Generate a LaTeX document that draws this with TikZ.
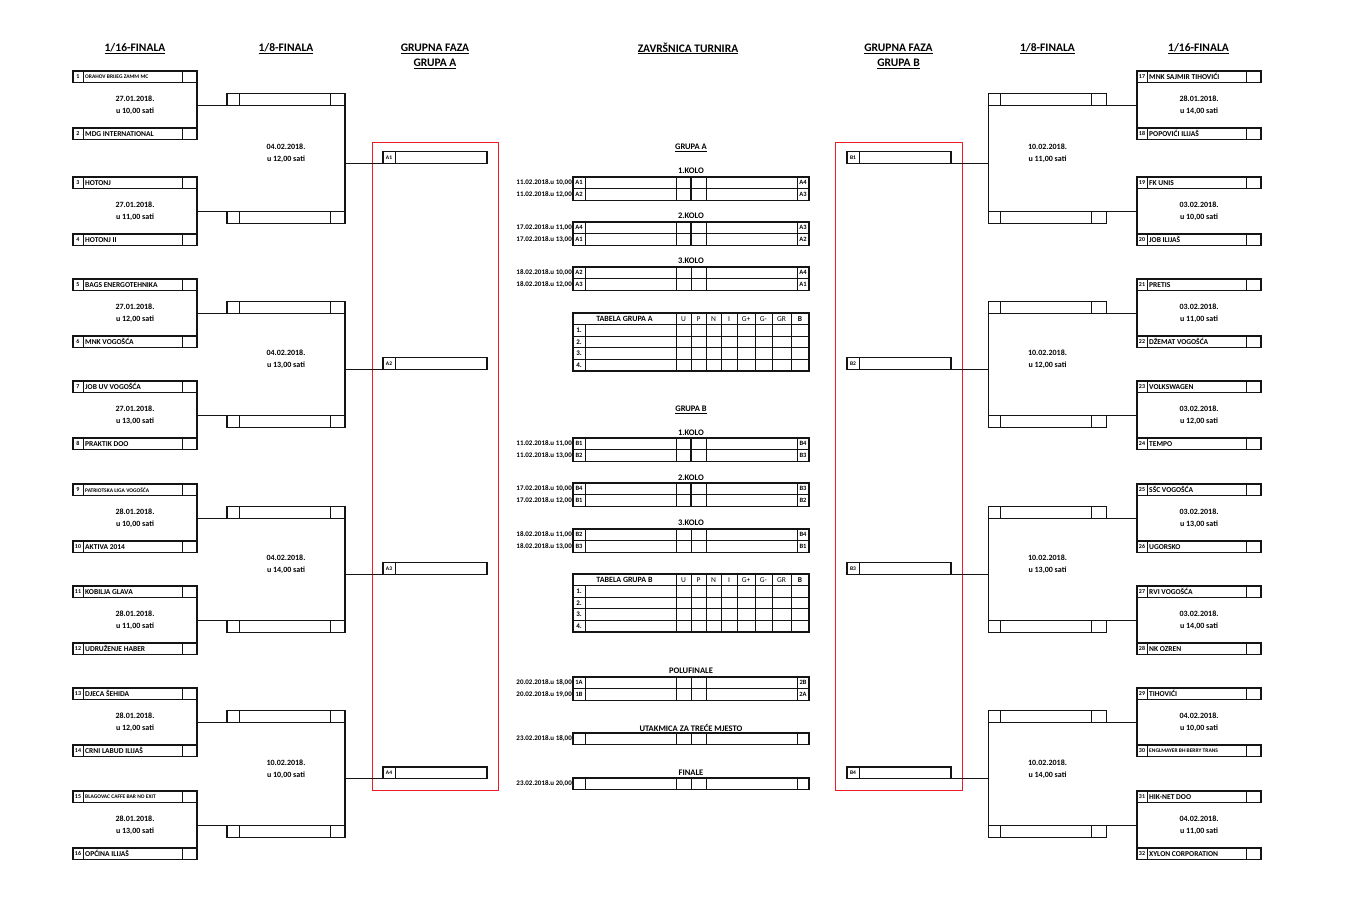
\documentclass[tikz,border=0pt]{standalone}
\usepackage{fontspec}
\setmainfont{Carlito}
\usetikzlibrary{positioning,calc}
\definecolor{ink}{HTML}{141414}
\definecolor{grpred}{HTML}{EE1C25}

\tikzset{
  boxcell/.style={draw=ink,line width=1.2pt,inner sep=0pt,outer sep=0pt,
                  anchor=north west,minimum height=11.6pt},
  teamcell/.style={boxcell,minimum width=124pt},
  roundcell/.style={boxcell,minimum width=118pt},
  slotcell/.style={boxcell,minimum width=104pt},
  matchcell/.style={boxcell,minimum width=236pt},
  tablecell/.style={boxcell,minimum width=236pt,minimum height=58pt},
  divider/.style={draw=ink,line width=0.7pt},
  joiner/.style={draw=ink,line width=1.1pt},
  grpframe/.style={draw=grpred,line width=0.8pt,inner sep=0pt,outer sep=0pt,
                   anchor=north west,minimum height=648pt},
  colheading/.style={font=\fontsize{11.5}{15}\selectfont\bfseries,align=center,inner sep=0pt},
  stagetitle/.style={font=\fontsize{8.5}{10}\selectfont\bfseries,inner sep=0pt},
  datetxt/.style={font=\fontsize{8}{12}\selectfont\bfseries,align=center,inner sep=0pt},
  teamtxt/.style={font=\fontsize{7.5}{8}\selectfont\bfseries,inner sep=0pt,anchor=west},
  numtxt/.style={font=\fontsize{6}{7}\selectfont\bfseries,inner sep=0pt},
  labtxt/.style={font=\fontsize{6.5}{7}\selectfont\bfseries,inner sep=0pt},
  whentxt/.style={font=\fontsize{7}{8}\selectfont\bfseries,inner sep=0pt,anchor=east},
  tabhead/.style={font=\fontsize{7.5}{8}\selectfont,inner sep=0pt},
}
\newcommand\tinyname{\fontsize{5.5}{6}\selectfont}

% one team line of the 1/16 round
\newcommand\teambox[5]{%
  \node[teamcell] (#1) at (#2,#3) {};
  \draw[divider] ($(#1.north west)+(10,0)$) -- ($(#1.south west)+(10,0)$);
  \draw[divider] ($(#1.north east)+(-15,0)$) -- ($(#1.south east)+(-15,0)$);
  \node[numtxt] (#1-num) at ($(#1.west)+(5,0)$) {#4};
  \node[teamtxt] (#1-name) at ($(#1.west)+(12,0)$) {#5};
}
% empty line of the 1/8 round
\newcommand\roundbox[3]{%
  \node[roundcell] (#1) at (#2,#3) {};
  \draw[divider] ($(#1.north west)+(12,0)$) -- ($(#1.south west)+(12,0)$);
  \draw[divider] ($(#1.north east)+(-15,0)$) -- ($(#1.south east)+(-15,0)$);
}
% group slot A1..B4
\newcommand\slotbox[4]{%
  \node[slotcell] (#1) at (#2,#3) {};
  \draw[divider] ($(#1.north west)+(12,0)$) -- ($(#1.south west)+(12,0)$);
  \node[labtxt,font=\fontsize{5.5}{6}\selectfont\bfseries] (#1-lab) at ($(#1.west)+(6,0)$) {#4};
}
% one match of the final part
\newcommand\matchrow[6]{%
  \node[matchcell] (#1) at (573,#2) {};
  \foreach \o in {12,103,133,224}
    \draw[divider] ($(#1.north west)+(\o,0)$) -- ($(#1.south west)+(\o,0)$);
  \draw[draw=ink,line width=#6] ($(#1.north west)+(118,0)$) -- ($(#1.south west)+(118,0)$);
  \node[whentxt] (#1-when) at ($(#1.west)+(-1,0)$) {#3};
  \node[labtxt] (#1-l) at ($(#1.west)+(6,0)$) {#4};
  \node[labtxt] (#1-r) at ($(#1.east)+(-6,0)$) {#5};
}
% group table
\newcommand\standings[3]{%
  \node[tablecell] (#1) at (573,#2) {};
  \foreach \r in {1,...,4}
    \draw[divider] ($(#1.north west)+(0,11.6*\r)$) -- ($(#1.north east)+(0,11.6*\r)$);
  \draw[divider] ($(#1.north west)+(12,11.6)$) -- ($(#1.south west)+(12,0)$);
  \foreach \o in {103,118,133,148,164,182,199,218}
    \draw[divider] ($(#1.north west)+(\o,0)$) -- ($(#1.south west)+(\o,0)$);
  \node[stagetitle,font=\fontsize{8}{9}\selectfont\bfseries] (#1-title) at ($(#1.north west)+(51.5,5.8)$) {#3};
  \foreach \o/\c [count=\i] in {110.5/U,125.5/P,140.5/N,156/I,173/G+,190.5/G-,208.5/GR}
    \node[tabhead] (#1-h\i) at ($(#1.north west)+(\o,5.8)$) {\c};
  \node[tabhead,font=\fontsize{7.5}{8}\selectfont\bfseries] (#1-pts) at ($(#1.north west)+(227,5.8)$) {B};
  \foreach \r in {1,...,4}
    \node[labtxt,font=\fontsize{7}{8}\selectfont\bfseries] (#1-p\r) at ($(#1.north west)+(6,5.8+11.6*\r)$) {\r.};
}

\begin{document}
\begin{tikzpicture}[x=1pt,y=-1pt]
 \fill[white] (0,0) rectangle (1360,914);
 \useasboundingbox (0,0) rectangle (1360,914);

 % headings
 \node[colheading] (h16l) at (135,48.5) {\underline{1/16-FINALA}};
 \node[colheading] (h8l) at (286,48.5) {\underline{1/8-FINALA}};
 \node[colheading] (hga) at (435,56) {\underline{GRUPNA FAZA}\\\underline{GRUPA A}};
 \node[colheading] (hfin) at (688,48.5) {\underline{ZAVRŠNICA TURNIRA}};
 \node[colheading] (hgb) at (898.5,56) {\underline{GRUPNA FAZA}\\\underline{GRUPA B}};
 \node[colheading] (h8r) at (1047.5,48.5) {\underline{1/8-FINALA}};
 \node[colheading] (h16r) at (1198.5,48.5) {\underline{1/16-FINALA}};

 % red group frames
 \node[grpframe,minimum width=126pt] (frameA) at (372,142) {};
 \node[grpframe,minimum width=127pt] (frameB) at (835,142) {};

 % 1/16 left
 \foreach \n/\y/\team in {1/71/{\tinyname ORAHOV BRIJEG ZAMM MC}, 2/128/MDG INTERNATIONAL,
     3/177/HOTONJ, 4/234/HOTONJ II, 5/279/BAGS ENERGOTEHNIKA, 6/336/MNK VOGOŠĆA,
     7/381/JOB UV VOGOŠĆA, 8/438/PRAKTIK DOO, 9/484/{\tinyname PATRIOTSKA LIGA VOGOŠĆA},
     10/541/AKTIVA 2014, 11/586/KOBILJA GLAVA, 12/643/UDRUŽENJE HABER,
     13/688/DJECA ŠEHIDA, 14/745/CRNI LABUD ILIJAŠ,
     15/791/{\tinyname BLAGOVAC CAFFE BAR NO EXIT}, 16/848/OPĆINA ILIJAŠ}
   {\teambox{t\n}{73}{\y}{\n}{\team}}

 % 1/16 right
 \foreach \n/\y/\team in {17/71/MNK SAJMIR TIHOVIĆI, 18/128/POPOVIĆI ILIJAŠ,
     19/177/FK UNIS, 20/234/JOB ILIJAŠ, 21/279/PRETIS, 22/336/DŽEMAT VOGOŠĆA,
     23/381/VOLKSWAGEN, 24/438/TEMPO, 25/484/SŠC VOGOŠĆA, 26/541/UGORSKO,
     27/586/RVI VOGOŠĆA, 28/643/NK OZREN, 29/688/TIHOVIĆI,
     30/745/{\tinyname ENGLMAYER BH BERRY TRANS}, 31/791/HIK-NET DOO,
     32/848/XYLON CORPORATION}
   {\teambox{t\n}{1137}{\y}{\n}{\team}}

 % 1/8 boxes
 \foreach \k/\y in {1/93.5,2/211.5,3/301.5,4/415.5,5/506.5,6/620.5,7/710.5,8/825.5}
   {\roundbox{e\k}{227}{\y}
    \roundbox{f\k}{988.5}{\y}}

 % group slots
 \foreach \k/\y in {1/151.5,2/357.5,3/562.5,4/767}
   {\slotbox{a\k}{383}{\y}{A\k}
    \slotbox{b\k}{847}{\y}{B\k}}

 % 1/16 pairs, left
 \foreach \a/\b/\e/\s/\dt/\hr in {1/2/e1/south west/27.01.2018./10, 3/4/e2/north west/27.01.2018./11,
     5/6/e3/south west/27.01.2018./12, 7/8/e4/north west/27.01.2018./13,
     9/10/e5/south west/28.01.2018./10, 11/12/e6/north west/28.01.2018./11,
     13/14/e7/south west/28.01.2018./12, 15/16/e8/north west/28.01.2018./13}
   {\draw[joiner] (t\a.south east) -- (t\b.north east);
    \draw[joiner] (t\a.south east |- \e.\s) -- (\e.\s);
    \node[datetxt] (d\a) at ($(t\a.south)!0.5!(t\b.north)$) {\dt\\u \hr,00 sati};}

 % 1/16 pairs, right
 \foreach \a/\b/\e/\s/\dt/\hr in {17/18/f1/south east/28.01.2018./14, 19/20/f2/north east/03.02.2018./10,
     21/22/f3/south east/03.02.2018./11, 23/24/f4/north east/03.02.2018./12,
     25/26/f5/south east/03.02.2018./13, 27/28/f6/north east/03.02.2018./14,
     29/30/f7/south east/04.02.2018./10, 31/32/f8/north east/04.02.2018./11}
   {\draw[joiner] (t\a.south west) -- (t\b.north west);
    \draw[joiner] (\e.\s) -- (t\a.south west |- \e.\s);
    \node[datetxt] (d\a) at ($(t\a.south)!0.5!(t\b.north)$) {\dt\\u \hr,00 sati};}

 % 1/8 pairs into the groups
 \foreach \u/\v/\s/\dt/\hr in {e1/e2/a1/04.02.2018./12, e3/e4/a2/04.02.2018./13,
     e5/e6/a3/04.02.2018./14, e7/e8/a4/10.02.2018./10}
   {\draw[joiner] (\u.south east) -- (\v.north east);
    \draw[joiner] (\u.east |- \s.south west) -- (\s.south west);
    \node[datetxt] (d\u) at ($(\u.south)!0.5!(\v.north)+(0,-5)$) {\dt\\u \hr,00 sati};}
 \foreach \u/\v/\s/\hr in {f1/f2/b1/11, f3/f4/b2/12, f5/f6/b3/13, f7/f8/b4/14}
   {\draw[joiner] (\u.south west) -- (\v.north west);
    \draw[joiner] (\s.south east) -- (\u.west |- \s.south east);
    \node[datetxt] (d\u) at ($(\u.south)!0.5!(\v.north)+(0,-5)$) {10.02.2018.\\u \hr,00 sati};}

 % group A
 \node[stagetitle] (ttlA) at (691,148) {\underline{GRUPA A}};
 \node[stagetitle] (koloA1) at (691,171) {1.KOLO};
 \matchrow{ga1}{177}{11.02.2018.u 10,00}{A1}{A4}{1.5pt}
 \matchrow{ga2}{188.6}{11.02.2018.u 12,00}{A2}{A3}{1.5pt}
 \node[stagetitle] (koloA2) at (691,216) {2.KOLO};
 \matchrow{ga3}{222}{17.02.2018.u 11,00}{A4}{A3}{1.5pt}
 \matchrow{ga4}{233.6}{17.02.2018.u 13,00}{A1}{A2}{1.5pt}
 \node[stagetitle] (koloA3) at (691,261) {3.KOLO};
 \matchrow{ga5}{267}{18.02.2018.u 10,00}{A2}{A4}{0.7pt}
 \matchrow{ga6}{278.6}{18.02.2018.u 12,00}{A3}{A1}{0.7pt}
 \standings{tabA}{313}{TABELA GRUPA A}

 % group B
 \node[stagetitle] (ttlB) at (691,410) {\underline{GRUPA B}};
 \node[stagetitle] (koloB1) at (691,433) {1.KOLO};
 \matchrow{gb1}{438}{11.02.2018.u 11,00}{B1}{B4}{1.5pt}
 \matchrow{gb2}{449.6}{11.02.2018.u 13,00}{B2}{B3}{1.5pt}
 \node[stagetitle] (koloB2) at (691,478) {2.KOLO};
 \matchrow{gb3}{483}{17.02.2018.u 10,00}{B4}{B3}{1.5pt}
 \matchrow{gb4}{494.6}{17.02.2018.u 12,00}{B1}{B2}{1.5pt}
 \node[stagetitle] (koloB3) at (691,523) {3.KOLO};
 \matchrow{gb5}{529}{18.02.2018.u 11,00}{B2}{B4}{0.7pt}
 \matchrow{gb6}{540.6}{18.02.2018.u 13,00}{B3}{B1}{0.7pt}
 \standings{tabB}{574}{TABELA GRUPA B}

 % knockout
 \node[stagetitle] (ttlSF) at (691,671) {POLUFINALE};
 \matchrow{sf1}{677}{20.02.2018.u 18,00}{1A}{2B}{0.7pt}
 \matchrow{sf2}{688.6}{20.02.2018.u 19,00}{1B}{2A}{0.7pt}
 \node[stagetitle] (ttl3rd) at (691,728) {UTAKMICA ZA TREĆE MJESTO};
 \matchrow{third}{733}{23.02.2018.u 18,00}{}{}{0.7pt}
 \node[stagetitle] (ttlF) at (691,773) {FINALE};
 \matchrow{final}{778}{23.02.2018.u 20,00}{}{}{0.7pt}
\end{tikzpicture}
\end{document}
